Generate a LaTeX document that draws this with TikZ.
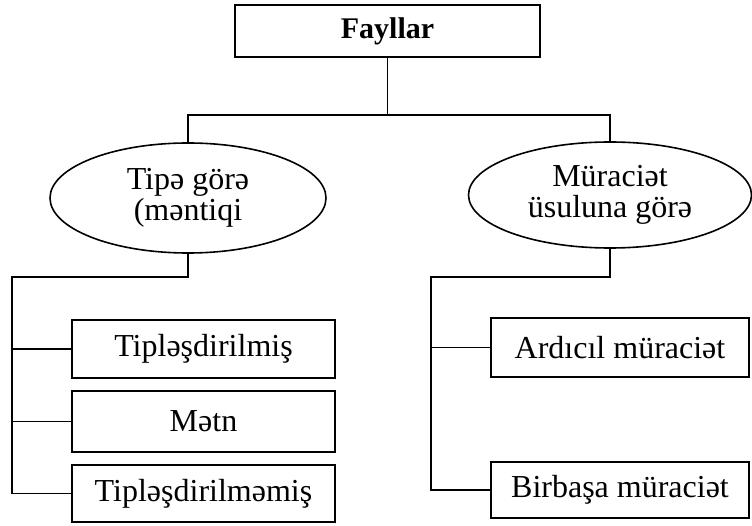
\documentclass[tikz,border=0pt]{standalone}
\usepackage{fontspec}
\setmainfont{Liberation Serif}
\usetikzlibrary{shapes.geometric}
\begin{document}
\begin{tikzpicture}[x=1pt,y=-1pt,
  every node/.style={font=\fontsize{32}{31}\selectfont, inner sep=0pt},
  box/.style={draw, line width=1.6pt, rectangle},
  oval/.style={draw, line width=1.6pt, ellipse, align=center},
  conn/.style={line width=1.6pt}]
\useasboundingbox (0,0) rectangle (752,526);
\node[box, minimum width=305pt, minimum height=52pt, font=\fontsize{30}{32}\selectfont\bfseries] (top) at (387.5,31) {Fayllar};
\node[oval, minimum width=276pt, minimum height=110pt] (e1) at (188,198) {Tipə görə\\(məntiqi};
\node[oval, minimum width=283pt, minimum height=106pt] (e2) at (610,195) {Müraciət\\üsuluna görə};
\node[box, minimum width=263pt, minimum height=58pt] (l1) at (203.5,349) {Tipləşdirilmiş};
\node[box, minimum width=263pt, minimum height=61pt] (l2) at (203.5,421.5) {Mətn};
\node[box, minimum width=263pt, minimum height=57pt] (l3) at (203.5,493.5) {Tipləşdirilməmiş};
\node[box, minimum width=258pt, minimum height=59pt] (r1) at (620,347.5) {Ardıcıl müraciət};
\node[box, minimum width=258pt, minimum height=56pt] (r2) at (620,490) {Birbaşa müraciət};
\coordinate (j) at (387.5,115);
\coordinate (lb) at (12,277);
\coordinate (rb) at (431,277);
\draw[conn] (top.south) -- (j);
\draw[conn] (e1.north) -- (e1.north |- j) -- (e2.north |- j) -- (e2.north);
\draw[conn] (e1.south) -- (e1.south |- lb) -- (lb) -- (lb |- l3.west) -- (l3.west);
\draw[conn] (lb |- l1.west) -- (l1.west);
\draw[conn] (lb |- l2.west) -- (l2.west);
\draw[conn] (e2.south) -- (e2.south |- rb) -- (rb) -- (rb |- r2.west) -- (r2.west);
\draw[conn] (rb |- r1.west) -- (r1.west);
\end{tikzpicture}
\end{document}
